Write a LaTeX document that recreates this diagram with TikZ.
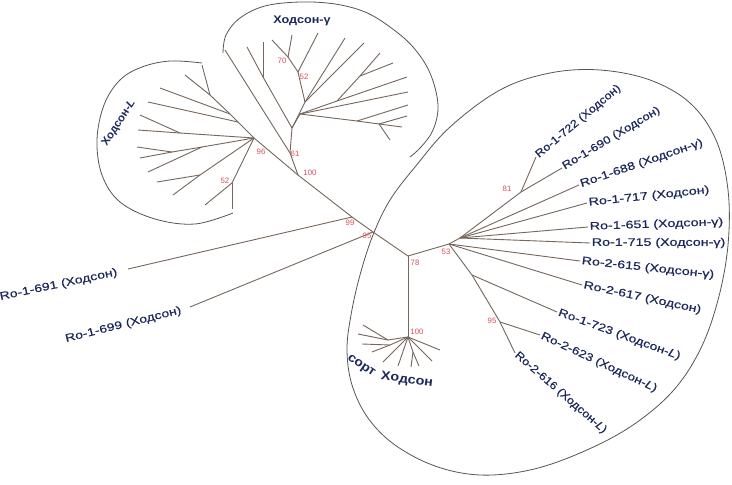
\documentclass[tikz,border=0pt]{standalone}
\usepackage{fontspec}
\setmainfont{Liberation Sans}
\newfontfamily\leaffont{Liberation Sans}[FakeBold=0.5]
\definecolor{navy}{RGB}{28,40,92}
\definecolor{branch}{RGB}{118,102,92}
\definecolor{ring}{RGB}{85,85,85}
\definecolor{boot}{RGB}{218,78,92}
% name, x, y, image angle, anchor, style, x-stretch of the figure, text
\newcommand\slab[8]{\begin{scope}[shift={(#2,#3)},rotate=#4,
  xscale={veclen(#7*cos(atan(#7*tan(#4))),sin(atan(#7*tan(#4))))}]
\node[#6,anchor=#5,transform shape] (#1) at (0,0) {#8};\end{scope}}
\begin{document}
\begin{tikzpicture}[x=1pt,y=-1pt,
  br/.style={draw=branch, line width=0.9pt},
  ringline/.style={draw=ring, line width=0.8pt},
  leaf/.style={text=navy, font=\leaffont\fontsize{11}{13}\selectfont, inner sep=1.2pt},
  bs/.style={text=boot, font=\fontsize{7.8}{9}\selectfont, inner sep=0pt},
  clus/.style={text=navy, font=\fontsize{11}{13}\selectfont\bfseries, inner sep=0pt},
  sortlab/.style={text=navy, font=\fontsize{12.5}{14}\selectfont\bfseries, inner sep=0pt}]
\path[use as bounding box, fill=white] (0,0) rectangle (732,485);
% enclosing curves
\draw[ringline] plot[smooth, tension=0.6] coordinates {(202,63) (170,61) (142,67) (120,80) (104,105) (97,140) (102,175) (120,202) (155,219) (195,224) (233,213)};
\draw[ringline] plot[smooth, tension=0.6] coordinates {(223,53) (226,35) (240,18) (265,6) (300,2) (335,4) (365,12) (390,27) (413,47) (430,73) (438,105) (433,130) (421,147) (410,157)};
\draw[ringline] plot[smooth cycle, tension=0.6] coordinates {(450,127) (500,90) (550,73) (600,70) (650,80) (690,103) (716,140) (728,190) (728,245) (718,300) (700,350) (672,392) (630,427) (580,453) (530,470) (480,475) (435,466) (395,445) (368,418) (352,385) (347,350) (351,315) (360,275) (373,235) (390,200) (415,167)};
% backbone
\coordinate (n100) at (298,175); \coordinate (n61) at (290,153);
\coordinate (nGH) at (292,128); \coordinate (nHL) at (254,138);
\coordinate (n99) at (352,217); \coordinate (n95) at (373,232);
\coordinate (n78) at (408,256); \coordinate (nSH) at (408,337);
\coordinate (n53) at (449,244); \coordinate (nFan) at (460,238);
\coordinate (n81) at (521,192); \coordinate (nJ1) at (472,275);
\coordinate (n95b) at (500,322);
\coordinate (t691) at (128,269); \coordinate (t699) at (190,307);
\coordinate (t722) at (536,157); \coordinate (t690) at (562,168);
\coordinate (t688) at (579,185); \coordinate (t717) at (587,203);
\coordinate (t651) at (588,227); \coordinate (t715) at (590,243);
\coordinate (t615) at (580,261); \coordinate (t617) at (582,285);
\coordinate (t723) at (557,312); \coordinate (t623) at (540,335);
\coordinate (t616) at (515,353);
% gamma clade
\coordinate (g1) at (225,50); \coordinate (gK) at (263,77);
\coordinate (g2) at (247,47); \coordinate (g3) at (263,42);
\coordinate (gQ) at (305,102); \coordinate (g7) at (345,38); \coordinate (g8) at (364,43);
\coordinate (gR52) at (298,72); \coordinate (g6) at (318,33);
\coordinate (gR70) at (288,57); \coordinate (g4) at (272,40); \coordinate (g5) at (292,35);
\coordinate (gP) at (300,114); \coordinate (gS1) at (337,101); \coordinate (g11) at (407,77);
\coordinate (gS2) at (360,76); \coordinate (g9) at (380,53); \coordinate (g10) at (393,63);
\coordinate (g12) at (408,92); \coordinate (gU1) at (357,121); \coordinate (g13) at (408,105);
\coordinate (gU2) at (379,124); \coordinate (g14) at (407,116); \coordinate (g15) at (402,127);
\coordinate (g16) at (390,140);
% L clade
\coordinate (lC) at (238,122); \coordinate (lB) at (230,114); \coordinate (lA) at (210,95);
\coordinate (l1) at (202,65); \coordinate (l2) at (185,75); \coordinate (l3) at (160,88);
\coordinate (l4) at (148,102); \coordinate (lD) at (180,133); \coordinate (l5) at (140,115);
\coordinate (l6) at (138,130); \coordinate (lF) at (202,147); \coordinate (lE) at (172,152);
\coordinate (l7) at (137,147); \coordinate (l8) at (140,158); \coordinate (l9) at (148,172);
\coordinate (lG) at (200,175); \coordinate (l10) at (173,195); \coordinate (l11) at (157,182);
\coordinate (lJ) at (232,183); \coordinate (l12) at (205,205); \coordinate (l13) at (232,209);
% cultivar clade
\coordinate (sW1) at (388,340); \coordinate (s1) at (363,325); \coordinate (s2) at (358,334);
\coordinate (sW2) at (390,345); \coordinate (s3) at (362,344); \coordinate (s4) at (372,352);
\coordinate (s5) at (383,362); \coordinate (s6) at (398,366);
\coordinate (sW3) at (413,352); \coordinate (s7) at (411,367); \coordinate (s8) at (419,366);
\coordinate (s9) at (432,361); \coordinate (s10) at (440,350);
\foreach \a/\b in {n100/n61, n61/nGH, n100/nHL, n100/n99, n99/t691, n99/n95, n95/t699,
  n95/n78, n78/nSH, n78/n53, n53/nFan, nFan/n81, n81/t722, n81/t690, nFan/t688, nFan/t717,
  nFan/t651, nFan/t715, n53/t615, n53/t617, n53/nJ1, nJ1/t723, nJ1/n95b, n95b/t623, n95b/t616,
  n61/g1, nGH/gK, gK/g2, gK/g3, nGH/gQ, gQ/g7, gQ/g8, gQ/gR52, gR52/g6, gR52/gR70, gR70/g4,
  gR70/g5, nGH/gP, gP/gS1, gS1/g11, gS1/gS2, gS2/g9, gS2/g10, gP/g12, gP/gU1, gU1/g13,
  gU1/gU2, gU2/g14, gU2/g15, gU2/g16,
  nHL/lC, lC/lB, lB/lA, lA/l1, lA/l2, lB/l3, lC/l4, nHL/lD, lD/l5, lD/l6, nHL/lF, lF/lE,
  lE/l7, lE/l8, lF/l9, nHL/lG, lG/l10, lG/l11, nHL/lJ, lJ/l12, lJ/l13,
  nSH/sW1, sW1/s1, sW1/s2, nSH/sW2, sW2/s3, sW2/s4, nSH/s5, nSH/s6, nSH/sW3, sW3/s7,
  sW3/s8, nSH/s9, nSH/s10}
  \draw[br] (\a) -- (\b);
% bootstrap values
\node[bs] (b70) at (282,61) {70};
\node[bs] (b52g) at (304,77) {52};
\node[bs] (b61) at (295,154) {61};
\node[bs] (b100) at (310,173) {100};
\node[bs] (b96) at (261,152) {96};
\node[bs] (b52L) at (225,181) {52};
\node[bs] (b99) at (350,223) {99};
\node[bs] (b95) at (367,236) {95};
\node[bs] (b78) at (415,263) {78};
\node[bs] (b100s) at (417,332) {100};
\node[bs] (b53) at (446,252) {53};
\node[bs] (b81) at (507,189) {81};
\node[bs] (b95b) at (492,321) {95};
% leaf labels
\slab{L722}{536}{157}{40}{west}{leaf}{1.3}{Ro-1-722 (Ходсон)}
\slab{L690}{562}{168}{31}{west}{leaf}{1.3}{Ro-1-690 (Ходсон)}
\slab{L688}{579}{185}{19}{west}{leaf}{1.3}{Ro-1-688 (Ходсон-γ)}
\slab{L717}{587}{203}{6}{west}{leaf}{1.3}{Ro-1-717 (Ходсон)}
\slab{L651}{588}{227}{2}{west}{leaf}{1.3}{Ro-1-651 (Ходсон-γ)}
\slab{L715}{590}{243}{0}{west}{leaf}{1.3}{Ro-1-715 (Ходсон-γ)}
\slab{L615}{580}{261}{-6}{west}{leaf}{1.3}{Ro-2-615 (Ходсон-γ)}
\slab{L617}{582}{285}{-12}{west}{leaf}{1.3}{Ro-2-617 (Ходсон)}
\slab{L723}{557}{312}{-20}{west}{leaf}{1.3}{Ro-1-723 (Ходсон-\textit{L})}
\slab{L623}{540}{335}{-25}{west}{leaf}{1.3}{Ro-2-623 (Ходсон-\textit{L})}
\slab{L616}{515}{353}{-41}{west}{leaf}{1.3}{Ro-2-616 (Ходсон-\textit{L})}
\slab{L691}{119}{272}{12}{east}{leaf}{1.3}{Ro-1-691 (Ходсон)}
\slab{L699}{183}{310}{14}{east}{leaf}{1.3}{Ro-1-699 (Ходсон)}
% cluster labels
\slab{CG}{302}{21}{0}{center}{clus}{1.15}{Ходсон-γ}
\slab{CL}{119}{123}{57}{center}{clus}{1.15}{Ходсон-\textit{L}}
\slab{CS1}{361}{366}{-34}{center}{sortlab}{1.15}{сорт}
\slab{CS2}{407}{380}{-7}{center}{sortlab}{1.15}{Ходсон}
\end{tikzpicture}
\end{document}
